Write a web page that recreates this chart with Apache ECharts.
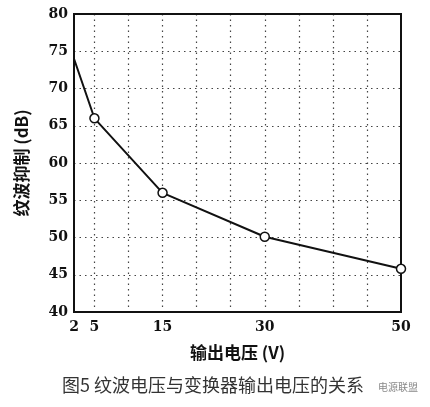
<!DOCTYPE html>
<html>
<head>
<meta charset="utf-8">
<script src="https://cdn.jsdelivr.net/npm/echarts@6/dist/echarts.min.js"></script>
<style>body{margin:0;background:#fff}#chart{width:430px;height:407px}</style>
</head>
<body>
<div id="chart"></div>
<script>
var voltage = [2, 5, 15, 30, 50];
var rejection = [74, 66, 56, 50.1, 45.8];
var xLabels = [2, 5, 15, 30, 50];
var xGrid = [5, 10, 15, 20, 25, 30, 35, 40, 45];

var chart = echarts.init(document.getElementById('chart'));
var dots = { type: [1.5, 4], color: '#444', width: 1.2 };
var data = voltage.map(function (v, i) { return [v, rejection[i]]; });

chart.setOption({
  animation: false,
  grid: { left: 74, right: 29, top: 14, bottom: 95 },
  xAxis: {
    type: 'value', min: 2, max: 50,
    name: '输出电压 (V)', nameLocation: 'middle', nameGap: 32,
    nameTextStyle: { fontFamily: 'Noto Sans CJK SC', fontWeight: 'bold', fontSize: 17, color: '#111' },
    axisLine: { lineStyle: { color: '#111', width: 2 } },
    axisTick: { show: false, customValues: xGrid },
    axisLabel: { customValues: xLabels, fontFamily: 'DejaVu Serif', fontWeight: 'bold', fontSize: 14, color: '#111', margin: 8 },
    splitLine: { show: true, lineStyle: dots }
  },
  yAxis: {
    type: 'value', min: 40, max: 80, interval: 5,
    name: '纹波抑制 (dB)', nameLocation: 'middle', nameGap: 44,
    nameTextStyle: { fontFamily: 'Noto Sans CJK SC', fontWeight: 'bold', fontSize: 17, color: '#111' },
    axisLine: { show: true, lineStyle: { color: '#111', width: 2 } },
    axisTick: { show: false },
    axisLabel: { fontFamily: 'DejaVu Serif', fontWeight: 'bold', fontSize: 14, color: '#111', margin: 6 },
    splitLine: { show: true, lineStyle: dots }
  },
  graphic: [
    { type: 'rect', shape: { x: 74, y: 14, width: 327, height: 298 }, style: { fill: 'none', stroke: '#111', lineWidth: 2 }, z: 100 },
    { type: 'text', left: 62, top: 376, style: { text: '图5 纹波电压与变换器输出电压的关系', font: '18px "Noto Sans CJK SC"', fill: '#333' } },
    { type: 'text', left: 378, top: 382, style: { text: '电源联盟', font: '10px "Noto Sans CJK SC"', fill: '#888' } }
  ],
  series: [{
    type: 'line', data: data,
    lineStyle: { color: '#111', width: 2 },
    symbol: 'circle', symbolSize: function (v) { return v[0] === 2 ? 0 : 9; },
    itemStyle: { color: '#fff', borderColor: '#111', borderWidth: 1.5 },
    z: 110
  }]
});
</script>
</body>
</html>
